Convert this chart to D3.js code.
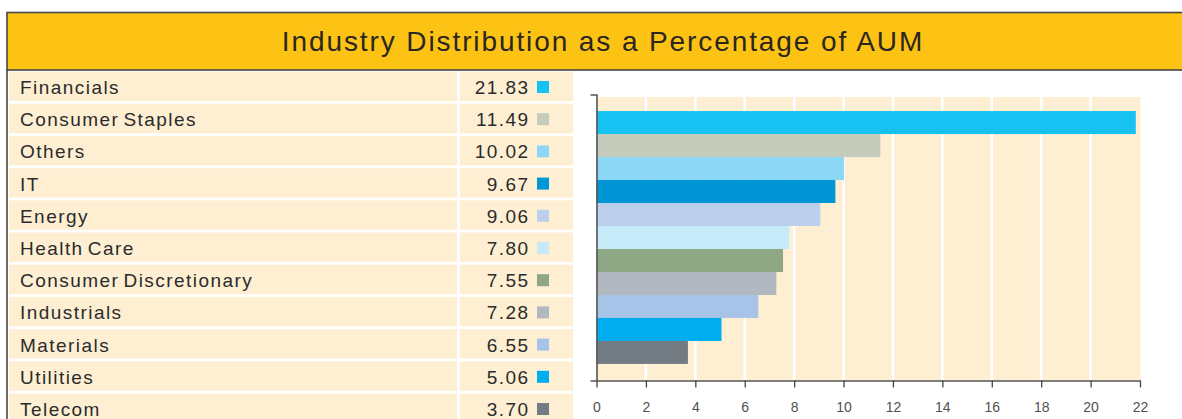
<!DOCTYPE html>
<html>
<head>
<meta charset="utf-8">
<script src="https://cdn.jsdelivr.net/npm/d3@7"></script>
<style>
  body { margin: 0; background: #fff; }
  svg { display: block; font-family: "Liberation Sans", Arial, sans-serif; }
</style>
</head>
<body>
<svg width="1182" height="419"></svg>
<script>
  const title = 'Industry Distribution as a Percentage of AUM';

  const categories = ['Financials', 'Consumer Staples', 'Others', 'IT', 'Energy', 'Health Care',
    'Consumer Discretionary', 'Industrials', 'Materials', 'Utilities', 'Telecom'];
  const values = [21.83, 11.49, 10.02, 9.67, 9.06, 7.80, 7.55, 7.28, 6.55, 5.06, 3.70];
  const colors = ['#17c1f2', '#c5ccbc', '#8dd7f6', '#0096d6', '#bcd0ee', '#c7eaf9',
    '#8ea886', '#b1b8bf', '#a7c4e8', '#00adee', '#727c82'];
  const xTicks = [0, 2, 4, 6, 8, 10, 12, 14, 16, 18, 20, 22];

  const data = categories.map((c, i) => ({ name: c, value: values[i], color: colors[i] }));

  const svg = d3.select('svg');
  const width = +svg.attr('width');

  // title band
  svg.append('rect')
    .attr('x', 7).attr('y', 12.5)
    .attr('width', width + 10).attr('height', 57.5)
    .attr('fill', '#fdc314')
    .attr('stroke', '#464646').attr('stroke-width', 1.6);

  svg.append('text')
    .attr('x', 603).attr('y', 50.5)
    .attr('text-anchor', 'middle')
    .attr('font-size', 28)
    .attr('letter-spacing', 1.9)
    .attr('fill', '#2b2620')
    .text(title);

  // left edge of the table
  svg.append('line')
    .attr('x1', 7).attr('x2', 7)
    .attr('y1', 70).attr('y2', 419)
    .attr('stroke', '#464646').attr('stroke-width', 1.6);

  // table
  const rowY = d3.scaleBand()
    .domain(categories)
    .range([71.5, 71.5 + 32.2 * categories.length]);

  const rows = svg.append('g').selectAll('g').data(data).enter()
    .append('g')
    .attr('transform', d => `translate(0,${rowY(d.name)})`);

  rows.append('rect')
    .attr('x', 9).attr('width', 448)
    .attr('height', rowY.bandwidth() - 2.7)
    .attr('fill', '#feefd3');

  rows.append('rect')
    .attr('x', 460).attr('width', 113)
    .attr('height', rowY.bandwidth() - 2.7)
    .attr('fill', '#feefd3');

  rows.append('text')
    .attr('x', 20).attr('y', 22.6)
    .attr('font-size', 19)
    .attr('letter-spacing', 1.45)
    .attr('word-spacing', -2.5)
    .attr('fill', '#2b2b2b')
    .text(d => d.name);

  rows.append('text')
    .attr('x', 529.5).attr('y', 22.6)
    .attr('text-anchor', 'end')
    .attr('font-size', 19)
    .attr('letter-spacing', 1.45)
    .attr('fill', '#2b2b2b')
    .text(d => d.value.toFixed(2));

  rows.append('rect')
    .attr('x', 537).attr('y', 9.5)
    .attr('width', 12).attr('height', 12)
    .attr('fill', d => d.color);

  // bar chart
  const plot = { left: 596.5, right: 1140, top: 94.5, bottom: 380.5 };

  const x = d3.scaleLinear()
    .domain([0, 22])
    .range([plot.left, plot.right]);

  const y = d3.scaleBand()
    .domain(categories)
    .range([plot.top, plot.bottom])
    .paddingInner(0)
    .paddingOuter(0.72);

  svg.append('rect')
    .attr('x', plot.left).attr('y', 97)
    .attr('width', plot.right - plot.left + 0.7)
    .attr('height', plot.bottom - 97)
    .attr('fill', '#feefd3');

  svg.append('g').selectAll('line').data(xTicks.slice(1, -1)).enter()
    .append('line')
    .attr('x1', d => x(d)).attr('x2', d => x(d))
    .attr('y1', 97).attr('y2', plot.bottom)
    .attr('stroke', '#fff').attr('stroke-width', 2.6);

  svg.append('g').selectAll('rect').data(data).enter()
    .append('rect')
    .attr('x', x(0))
    .attr('y', d => y(d.name))
    .attr('width', d => x(d.value) - x(0))
    .attr('height', y.bandwidth())
    .attr('fill', d => d.color);

  const xAxis = d3.axisBottom(x)
    .tickValues(xTicks)
    .tickSize(7)
    .tickSizeOuter(0)
    .tickPadding(15);

  const xAxisG = svg.append('g')
    .attr('transform', `translate(0,${plot.bottom})`)
    .call(xAxis);
  xAxisG.select('.domain').attr('stroke', '#555').attr('stroke-width', 1.4);
  xAxisG.selectAll('.tick line').attr('stroke', '#444').attr('stroke-width', 1.3);
  xAxisG.selectAll('.tick text')
    .attr('font-family', '"Liberation Sans", Arial, sans-serif')
    .attr('font-size', 14)
    .attr('fill', '#505050');

  const yAxis = d3.axisLeft(y)
    .tickValues([])
    .tickSizeOuter(6);

  const yAxisG = svg.append('g')
    .attr('transform', `translate(${plot.left},0)`)
    .call(yAxis);
  yAxisG.select('.domain').attr('stroke', '#555').attr('stroke-width', 1.6);
</script>
</body>
</html>
